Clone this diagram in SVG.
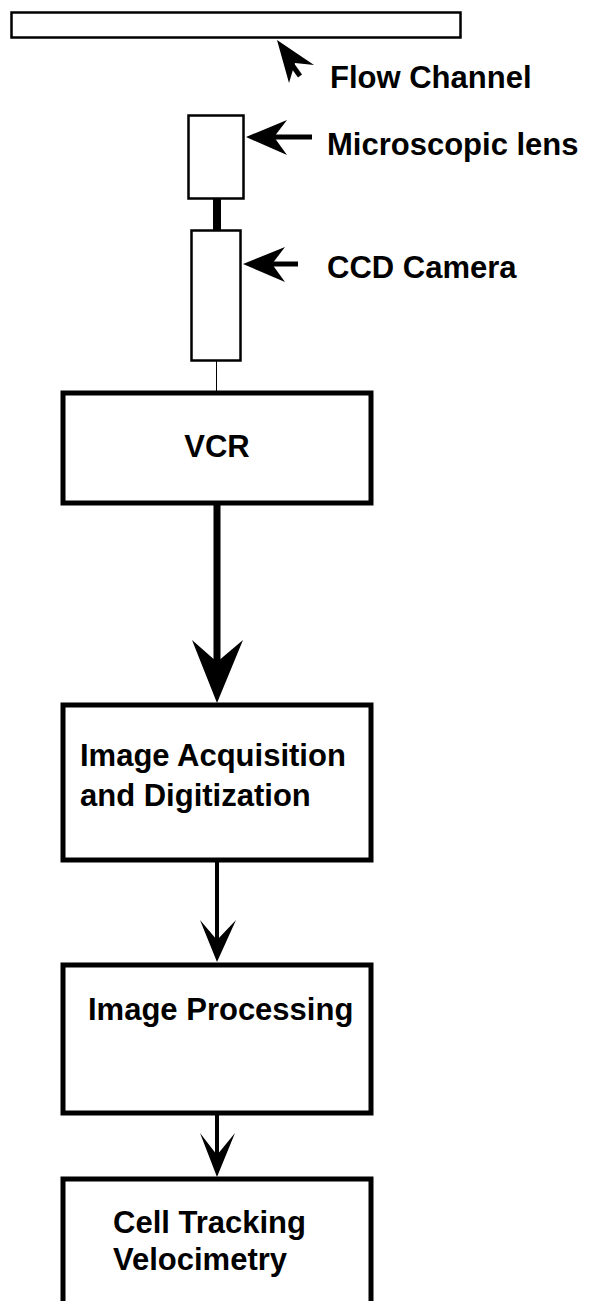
<svg xmlns="http://www.w3.org/2000/svg" width="590" height="1301" viewBox="0 0 590 1301">
<style>
.lbl{font-family:"Liberation Sans",Arial,sans-serif;font-weight:bold;font-size:31px;fill:#000}
.thin{fill:#fff;stroke:#000;stroke-width:2.5}
.box{fill:#fff;stroke:#000;stroke-width:5}
.head{fill:#000;stroke:none}
</style>
<rect width="590" height="1301" fill="#fff"/>
<g id="flow-channel">
<rect class="thin" x="11.5" y="12.5" width="449" height="25"/>
<text class="lbl" x="330" y="88">Flow Channel</text>
</g>
<g id="microscopic-lens">
<rect class="thin" x="188.5" y="115.5" width="55" height="83"/>
<text class="lbl" x="327" y="155">Microscopic lens</text>
</g>
<g id="ccd-camera">
<rect class="thin" x="191.5" y="230.5" width="49" height="130"/>
<text class="lbl" x="327" y="278">CCD Camera</text>
</g>
<g id="vcr">
<rect class="box" x="63" y="393" width="308" height="110"/>
<text class="lbl" x="217" y="457" text-anchor="middle">VCR</text>
</g>
<g id="image-acquisition">
<rect class="box" x="63" y="705" width="308" height="155"/>
<text class="lbl" x="80" y="766">Image Acquisition</text>
<text class="lbl" x="80" y="806">and Digitization</text>
</g>
<g id="image-processing">
<rect class="box" x="63" y="965" width="308" height="148"/>
<text class="lbl" x="88" y="1020">Image Processing</text>
</g>
<g id="cell-tracking">
<rect class="box" x="63" y="1179" width="308" height="200"/>
<text class="lbl" x="113" y="1233">Cell Tracking</text>
<text class="lbl" x="113" y="1270">Velocimetry</text>
</g>
<g id="connectors">
<line x1="300" y1="76" x2="290" y2="62" stroke="#000" stroke-width="5"/>
<polygon class="head" points="277,40 314,65 295,63 289,83"/>
<line x1="274" y1="137" x2="312" y2="137" stroke="#000" stroke-width="5"/>
<polygon class="head" points="246,137 287,120 274,137 287,155"/>
<line x1="272" y1="264" x2="298" y2="264" stroke="#000" stroke-width="5"/>
<polygon class="head" points="243,264 285,247 272,264 285,282"/>
<rect x="213" y="199" width="8" height="31" fill="#000"/>
<line x1="216.5" y1="361" x2="216.5" y2="391" stroke="#000" stroke-width="1"/>
<line x1="217" y1="505" x2="217" y2="665" stroke="#000" stroke-width="7"/>
<polygon class="head" points="217,703 192,640 217,662 243,640"/>
<line x1="217" y1="862" x2="217" y2="942" stroke="#000" stroke-width="4"/>
<polygon class="head" points="217,962 200,920 217,940 236,920"/>
<line x1="217" y1="1115" x2="217" y2="1157" stroke="#000" stroke-width="4"/>
<polygon class="head" points="217,1177 200,1133 217,1155 235,1133"/>
</g>
</svg>
